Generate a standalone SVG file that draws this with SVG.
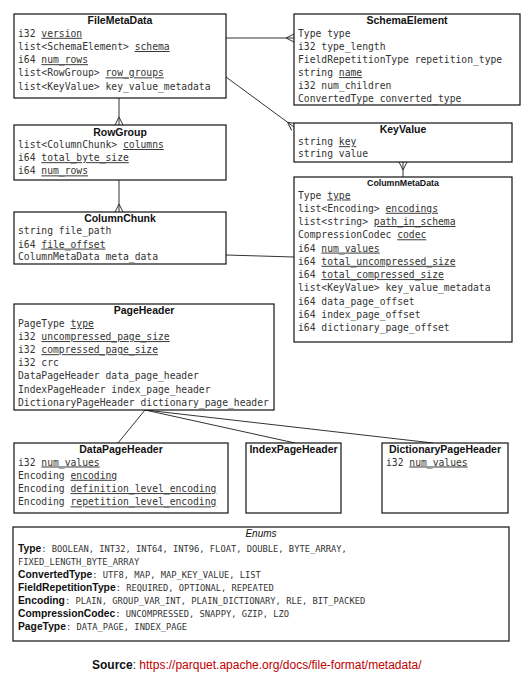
<svg xmlns="http://www.w3.org/2000/svg" width="524" height="683" viewBox="0 0 524 683">
<defs>
<marker id="crow" markerUnits="userSpaceOnUse" markerWidth="12" markerHeight="12" refX="8" refY="0" orient="auto" overflow="visible">
<path d="M0,0 L8,-4 M0,0 L8,4" fill="none" stroke="#333" stroke-width="1"/>
</marker>
</defs>
<style>
.box{fill:#fff;stroke:#111;stroke-width:1.2}
.t{font-family:"Liberation Sans",Arial,sans-serif;font-weight:bold;font-size:10.5px;fill:#111;text-anchor:middle}
.f{font-family:"DejaVu Sans Mono",monospace;font-size:9.7px;fill:#333}
.u{text-decoration:underline}
.c{fill:none;stroke:#333;stroke-width:1}
.eb{font-family:"Liberation Sans",Arial,sans-serif;font-weight:bold;font-size:10.3px;fill:#111}
.em{font-family:"DejaVu Sans Mono",monospace;font-size:8.75px;fill:#333;font-weight:normal}
</style>
<rect width="524" height="683" fill="#fff"/>
<g id="connectors">
<line class="c" x1="226" y1="38" x2="294" y2="38" marker-end="url(#crow)"/>
<line class="c" x1="226" y1="77" x2="294" y2="127" marker-end="url(#crow)"/>
<line class="c" x1="119" y1="98" x2="119" y2="125" marker-end="url(#crow)"/>
<line class="c" x1="119" y1="180" x2="119" y2="212" marker-end="url(#crow)"/>
<line class="c" x1="403" y1="177" x2="403" y2="162" marker-end="url(#crow)"/>
<line class="c" x1="226" y1="255" x2="294" y2="257"/>
<line class="c" x1="145" y1="410" x2="118" y2="443"/>
<line class="c" x1="145" y1="410" x2="295" y2="443"/>
<line class="c" x1="145" y1="410" x2="433" y2="443"/>
</g>
<g id="FileMetaData">
<rect class="box" x="14" y="14" width="212" height="84"/>
<text class="t" x="120" y="24">FileMetaData</text>
<text class="f" x="18" y="36.8">i32 <tspan class="u">version</tspan></text>
<text class="f" x="18" y="50">list&lt;SchemaElement&gt; <tspan class="u">schema</tspan></text>
<text class="f" x="18" y="63.2">i64 <tspan class="u">num_rows</tspan></text>
<text class="f" x="18" y="76.4">list&lt;RowGroup&gt; <tspan class="u">row_groups</tspan></text>
<text class="f" x="18" y="89.6">list&lt;KeyValue&gt; key_value_metadata</text>
</g>
<g id="SchemaElement">
<rect class="box" x="294" y="14" width="226" height="91"/>
<text class="t" x="407" y="24">SchemaElement</text>
<text class="f" x="298" y="36.8">Type type</text>
<text class="f" x="298" y="49.9">i32 type_length</text>
<text class="f" x="298" y="63">FieldRepetitionType repetition_type</text>
<text class="f" x="298" y="76.1">string <tspan class="u">name</tspan></text>
<text class="f" x="298" y="89.2">i32 num_children</text>
<text class="f" x="298" y="102.3">ConvertedType converted_type</text>
</g>
<g id="RowGroup">
<rect class="box" x="14" y="125" width="212" height="55"/>
<text class="t" x="120" y="135.5">RowGroup</text>
<text class="f" x="18" y="148">list&lt;ColumnChunk&gt; <tspan class="u">columns</tspan></text>
<text class="f" x="18" y="161.2">i64 <tspan class="u">total_byte_size</tspan></text>
<text class="f" x="18" y="174.4">i64 <tspan class="u">num_rows</tspan></text>
</g>
<g id="ColumnChunk">
<rect class="box" x="14" y="212" width="212" height="52"/>
<text class="t" x="120" y="222">ColumnChunk</text>
<text class="f" x="18" y="234.4">string file_path</text>
<text class="f" x="18" y="247.6">i64 <tspan class="u">file_offset</tspan></text>
<text class="f" x="18" y="260.4">ColumnMetaData meta_data</text>
</g>
<g id="KeyValue">
<rect class="box" x="294" y="123" width="218" height="39"/>
<text class="t" x="403" y="132.5">KeyValue</text>
<text class="f" x="298" y="145.2">string <tspan class="u">key</tspan></text>
<text class="f" x="298" y="157.2">string value</text>
</g>
<g id="ColumnMetaData">
<rect class="box" x="294" y="177" width="218" height="165"/>
<text class="t" x="403" y="186" style="font-size:8.8px">ColumnMetaData</text>
<text class="f" x="298" y="198.5">Type <tspan class="u">type</tspan></text>
<text class="f" x="298" y="211.8">list&lt;Encoding&gt; <tspan class="u">encodings</tspan></text>
<text class="f" x="298" y="225">list&lt;string&gt; <tspan class="u">path_in_schema</tspan></text>
<text class="f" x="298" y="238.3">CompressionCodec <tspan class="u">codec</tspan></text>
<text class="f" x="298" y="251.6">i64 <tspan class="u">num_values</tspan></text>
<text class="f" x="298" y="264.8">i64 <tspan class="u">total_uncompressed_size</tspan></text>
<text class="f" x="298" y="278.1">i64 <tspan class="u">total_compressed_size</tspan></text>
<text class="f" x="298" y="291.4">list&lt;KeyValue&gt; key_value_metadata</text>
<text class="f" x="298" y="304.7">i64 data_page_offset</text>
<text class="f" x="298" y="317.9">i64 index_page_offset</text>
<text class="f" x="298" y="331.2">i64 dictionary_page_offset</text>
</g>
<g id="PageHeader">
<rect class="box" x="14" y="304" width="260" height="106"/>
<text class="t" x="144" y="314">PageHeader</text>
<text class="f" x="18" y="327">PageType <tspan class="u">type</tspan></text>
<text class="f" x="18" y="340.1">i32 <tspan class="u">uncompressed_page_size</tspan></text>
<text class="f" x="18" y="353.2">i32 <tspan class="u">compressed_page_size</tspan></text>
<text class="f" x="18" y="366.3">i32 crc</text>
<text class="f" x="18" y="379.4">DataPageHeader data_page_header</text>
<text class="f" x="18" y="392.5">IndexPageHeader index_page_header</text>
<text class="f" x="18" y="405.6">DictionaryPageHeader dictionary_page_header</text>
</g>
<g id="DataPageHeader">
<rect class="box" x="14" y="443" width="214" height="70"/>
<text class="t" x="121" y="453">DataPageHeader</text>
<text class="f" x="18" y="465.5">i32 <tspan class="u">num_values</tspan></text>
<text class="f" x="18" y="478.8">Encoding <tspan class="u">encoding</tspan></text>
<text class="f" x="18" y="492.1">Encoding <tspan class="u">definition_level_encoding</tspan></text>
<text class="f" x="18" y="505.4">Encoding <tspan class="u">repetition_level_encoding</tspan></text>
</g>
<g id="IndexPageHeader">
<rect class="box" x="246" y="443" width="95" height="70"/>
<text class="t" x="293.5" y="453">IndexPageHeader</text>
</g>
<g id="DictionaryPageHeader">
<rect class="box" x="382" y="443" width="126" height="70"/>
<text class="t" x="445" y="453">DictionaryPageHeader</text>
<text class="f" x="386" y="465.5">i32 <tspan class="u">num_values</tspan></text>
</g>
<g id="Enums">
<rect class="box" x="13" y="527" width="496" height="114"/>
<text x="261" y="536.5" style="font-family:'Liberation Sans',Arial,sans-serif;font-style:italic;font-size:10px;fill:#111;text-anchor:middle">Enums</text>
<text class="eb" x="18" y="551.5">Type<tspan class="em">: BOOLEAN, INT32, INT64, INT96, FLOAT, DOUBLE, BYTE_ARRAY,</tspan></text>
<text class="em" x="18" y="564.5">FIXED_LENGTH_BYTE_ARRAY</text>
<text class="eb" x="18" y="577.5">ConvertedType<tspan class="em">: UTF8, MAP, MAP_KEY_VALUE, LIST</tspan></text>
<text class="eb" x="18" y="590.5">FieldRepetitionType<tspan class="em">: REQUIRED, OPTIONAL, REPEATED</tspan></text>
<text class="eb" x="18" y="603.5">Encoding<tspan class="em">: PLAIN, GROUP_VAR_INT, PLAIN_DICTIONARY, RLE, BIT_PACKED</tspan></text>
<text class="eb" x="18" y="616.5">CompressionCodec<tspan class="em">: UNCOMPRESSED, SNAPPY, GZIP, LZO</tspan></text>
<text class="eb" x="18" y="629.5">PageType<tspan class="em">: DATA_PAGE, INDEX_PAGE</tspan></text>
</g>
<g id="source">
<text x="92" y="669" style="font-family:'Liberation Sans',Arial,sans-serif;font-size:12px;fill:#111"><tspan font-weight="bold">Source</tspan>: <tspan fill="#c00000">https://parquet.apache.org/docs/file-format/metadata/</tspan></text>
</g>
</svg>
